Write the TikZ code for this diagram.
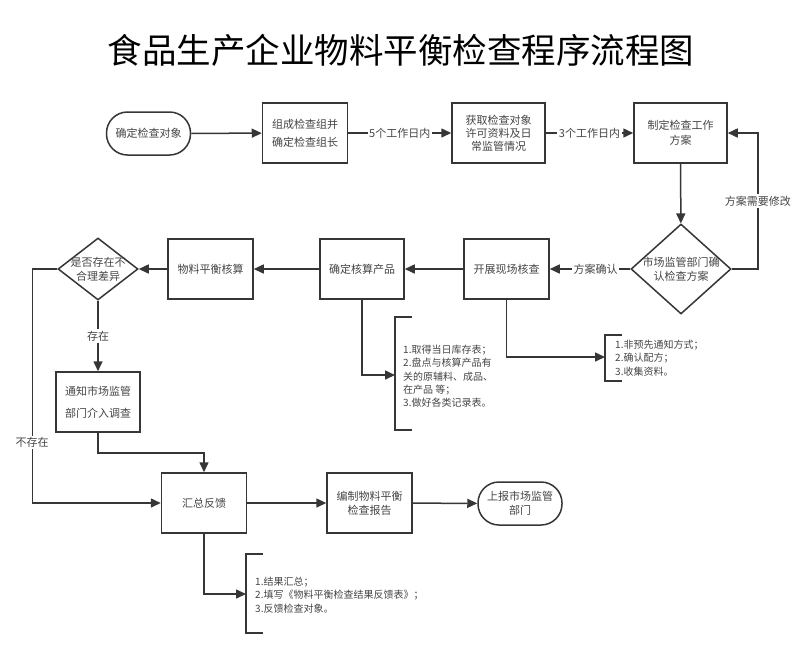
\documentclass[tikz,border=0pt]{standalone}
\usepackage{fontspec}
\setmainfont{Noto Sans CJK SC}
\usetikzlibrary{arrows.meta,shapes.geometric}
\definecolor{linegray}{HTML}{363636}
\definecolor{textgray}{HTML}{454545}

\begin{document}
\begin{tikzpicture}[x=1pt,y=-1pt,
  box/.style={draw=linegray,line width=1.5pt,minimum width=85pt,minimum height=60pt,inner sep=0pt,align=center,text=textgray,font=\fontsize{11}{15}\selectfont},
  term/.style={box,rounded corners=21pt,minimum width=84pt,minimum height=43pt},
  decide/.style={draw=linegray,line width=1.5pt,diamond,inner sep=0pt},
  dtext/.style={align=center,inner sep=0pt,text=textgray,font=\fontsize{11}{14}\selectfont},
  flow/.style={draw=linegray,line width=1.5pt,-{Triangle[length=10pt,width=9pt]}},
  tag/.style={fill=white,inner sep=1.5pt,text=textgray,font=\fontsize{11}{13}\selectfont},
  note/.style={anchor=west,align=left,inner sep=0pt,text=textgray,font=\fontsize{10}{13.3}\selectfont},
  brace/.style={draw=linegray,line width=1.5pt}]
  \path[fill=white,use as bounding box] (0,0) rectangle (800,657);
  \node[font=\fontsize{34.5}{40}\selectfont] (title) at (401,50) {食品生产企业物料平衡检查程序流程图};
  \node[term] (start) at (148.5,133.5) {确定检查对象};
  \node[box,font=\fontsize{11}{18}\selectfont] (team) at (305,133) {组成检查组并\\确定检查组长};
  \node[box,minimum width=93pt,font=\fontsize{11}{13}\selectfont] (info) at (498.5,133) {获取检查对象\\许可资料及日\\常监管情况};
  \node[box,minimum width=93pt] (plan) at (680.5,133) {制定检查工作\\方案};
  \node[decide,minimum width=100pt,minimum height=90pt,label={[dtext]center:{市场监管部门确\\认检查方案}}] (confirm) at (681,269) {};
  \node[box] (site) at (506.5,269) {开展现场核查};
  \node[box,minimum width=84pt] (product) at (362,269) {确定核算产品};
  \node[box] (calc) at (210.5,269) {物料平衡核算};
  \node[decide,minimum width=80pt,minimum height=62pt,label={[dtext]center:{是否存在不\\合理差异}}] (differ) at (98,269) {};
  \node[box,minimum width=84pt,font=\fontsize{11}{22}\selectfont] (notify) at (98,402) {通知市场监管\\部门介入调查};
  \node[box] (summary) at (204,503) {汇总反馈};
  \node[box,font=\fontsize{11}{14}\selectfont] (report) at (369.5,503) {编制物料平衡\\检查报告};
  \node[term,font=\fontsize{11}{14}\selectfont] (submit) at (520,503.5) {上报市场监管\\部门};
  \coordinate (n1) at (395,375);
  \coordinate (n2) at (605,357);
  \coordinate (n3) at (246,594);
  \draw[flow] (start) -- (team);
  \draw[flow] (team) -- node[tag]{5个工作日内} (info);
  \draw[flow] (info) -- node[tag]{3个工作日内} (plan);
  \draw[flow] (plan) -- (confirm);
  \draw[flow] (confirm.east) -- ++(26,0) |- node[tag,pos=0.25]{方案需要修改} (plan.east);
  \draw[flow] (confirm) -- node[tag,pos=0.43]{方案确认} (site);
  \draw[flow] (site) -- (product);
  \draw[flow] (product) -- (calc);
  \draw[flow] (calc) -- (differ);
  \draw[flow] (differ) -- node[tag]{存在} (notify);
  \draw[flow] (differ.west) -- ++(-25,0) |- node[tag,pos=0.37]{不存在} (summary.west);
  \draw[flow] (notify.south) -- ++(0,20) -| (summary.north);
  \draw[flow] (summary) -- (report);
  \draw[flow] (report) -- (submit);
  \draw[flow] (product.south) |- (n1);
  \draw[flow] (site.south) |- (n2);
  \draw[flow] (summary.south) |- (n3);
  \draw[brace] (412,317) -| (395,430) -- (412,430);
  \draw[brace] (622,335) -| (605,381) -- (622,381);
  \draw[brace] (263,554) -| (246,633) -- (263,633);
  \node[note] (t1) at (403,376.5) {1.取得当日库存表；\\2.盘点与核算产品有\\关的原辅料、成品、\\在产品 等；\\3.做好各类记录表。};
  \node[note] (t2) at (615,358) {1.非预先通知方式；\\2.确认配方；\\3.收集资料。};
  \node[note] (t3) at (255,595) {1.结果汇总；\\2.填写《物料平衡检查结果反馈表》；\\3.反馈检查对象。};
\end{tikzpicture}
\end{document}
